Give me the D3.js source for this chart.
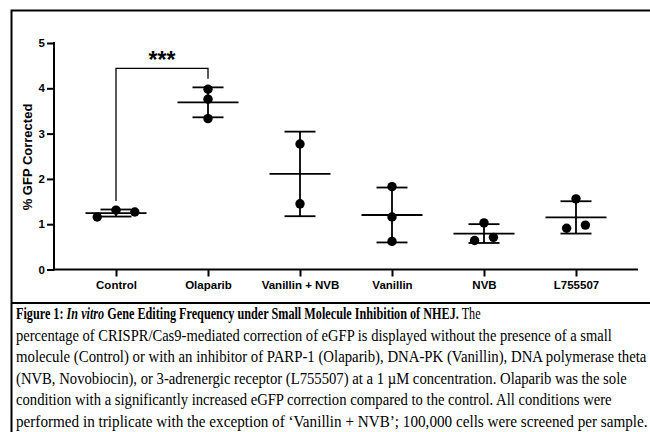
<!DOCTYPE html>
<html>
<head>
<meta charset="utf-8">
<script src="https://cdn.jsdelivr.net/npm/d3@7"></script>
<style>
  body { margin: 0; background: #fff; }
  svg { display: block; }
</style>
</head>
<body>
<div id="chart"></div>
<script>
// values (% GFP corrected, one array per condition)
var groups = ["Control", "Olaparib", "Vanillin + NVB", "Vanillin", "NVB", "L755507"];
var control = [1.16, 1.31, 1.27];
var olaparib = [3.98, 3.76, 3.33];
var vanillinNvb = [2.77, 1.45];
var vanillin = [1.83, 1.16, 0.62];
var nvb = [0.64, 1.03, 0.71];
var l755507 = [0.91, 1.56, 0.98];
var yTicks = [0, 1, 2, 3, 4, 5];

// significance bracket
var sigPair = ["Control", "Olaparib"];
var sigLevel = 4.44;
var sigLabel = "***";

var captionLines = [
  [["Figure 1: ", "b"], ["In vitro", "bi"], [" Gene Editing Frequency under Small Molecule Inhibition of NHEJ.", "b"], [" The", ""]],
  [["percentage of CRISPR/Cas9-mediated correction of eGFP is displayed without the presence of a small", ""]],
  [["molecule (Control) or with an inhibitor of PARP-1 (Olaparib), DNA-PK (Vanillin), DNA polymerase theta", ""]],
  [["(NVB, Novobiocin), or 3-adrenergic receptor (L755507) at a 1 \u00b5M concentration. Olaparib was the sole", ""]],
  [["condition with a significantly increased eGFP correction compared to the control. All conditions were", ""]],
  [["performed in triplicate with the exception of \u2018Vanillin + NVB\u2019; 100,000 cells were screened per sample.", ""]]
];
// right end of each caption line in the figure
var captionEnds = [481, 612, 647, 627, 612, 648];

var values = [control, olaparib, vanillinNvb, vanillin, nvb, l755507];

var width = 650, height = 432;
var svg = d3.select("#chart").append("svg")
    .attr("width", width)
    .attr("height", height);

var sans = "'Liberation Sans', Arial, Helvetica, sans-serif";
var serif = "'Liberation Serif', 'Times New Roman', Times, serif";

// frame
svg.append("path")
    .attr("d", "M11.5,432V10.5H650")
    .attr("fill", "none")
    .attr("stroke", "#000")
    .attr("stroke-width", 2);
svg.append("line")
    .attr("x1", 11).attr("x2", 650)
    .attr("y1", 303).attr("y2", 303)
    .attr("stroke", "#000")
    .attr("stroke-width", 2);

var x = d3.scalePoint()
    .domain(groups)
    .range([54, 638])
    .padding(0.674);

var y = d3.scaleLinear()
    .domain([0, 5])
    .range([269.5, 43]);

var yAxis = g => g
    .attr("transform", "translate(54,0)")
    .call(d3.axisLeft(y).tickValues(yTicks).tickSize(7).tickPadding(2).tickFormat(d3.format("d")))
    .call(g => g.selectAll("path, line").attr("stroke", "#000").attr("stroke-width", 2))
    .call(g => g.select(".domain").attr("d", "M0," + (y(5) - 1) + "V" + (y(0) + 1)))
    .call(g => g.selectAll("text").attr("fill", "#000")
        .style("font", "bold 11.5px " + sans));

var xAxis = g => g
    .attr("transform", "translate(0," + y(0) + ")")
    .call(d3.axisBottom(x).tickSize(7).tickPadding(4).tickSizeOuter(0))
    .call(g => g.selectAll("path, line").attr("stroke", "#000").attr("stroke-width", 2))
    .call(g => g.select(".domain").attr("d", "M54,0H638"))
    .call(g => g.selectAll("text").attr("fill", "#000")
        .style("font", "bold 11.5px " + sans));

svg.append("g").call(xAxis);
svg.append("g").call(yAxis);

svg.append("text")
    .attr("transform", "translate(32," + 157 + ") rotate(-90)")
    .attr("text-anchor", "middle")
    .style("font", "bold 13px " + sans)
    .text("% GFP Corrected");

// scatter with mean and SD
var r = 4.7;
var meanHalf = 30.5, capHalf = 15.5;

var plot = svg.append("g");

groups.forEach(function(name, gi) {
  var vals = values[gi];
  var cx = x(name);
  var mean = d3.mean(vals);
  var sd = d3.deviation(vals);

  // spread points that sit at nearly the same height
  var order = vals.map((v, i) => i).sort((a, b) => y(vals[a]) - y(vals[b]));
  var clusters = [], cur = [order[0]];
  for (var k = 1; k < order.length; k++) {
    if (Math.abs(y(vals[order[k]]) - y(vals[order[k - 1]])) < 2 * r) cur.push(order[k]);
    else { clusters.push(cur); cur = [order[k]]; }
  }
  clusters.push(cur);
  var dx = vals.map(() => 0);
  clusters.forEach(function(c) {
    c.sort((a, b) => a - b);
    c.forEach(function(idx, j) { dx[idx] = (j - (c.length - 1) / 2) * 4 * r; });
  });

  var g = plot.append("g").attr("stroke", "#000").attr("stroke-width", 1.8);
  g.append("line")
      .attr("x1", cx).attr("x2", cx)
      .attr("y1", y(mean - sd)).attr("y2", y(mean + sd));
  [mean - sd, mean + sd].forEach(function(v) {
    g.append("line")
        .attr("x1", cx - capHalf).attr("x2", cx + capHalf)
        .attr("y1", y(v)).attr("y2", y(v));
  });
  g.append("line")
      .attr("x1", cx - meanHalf).attr("x2", cx + meanHalf)
      .attr("y1", y(mean)).attr("y2", y(mean));

  plot.selectAll(null)
      .data(vals)
      .join("circle")
      .attr("cx", (d, i) => cx + dx[i])
      .attr("cy", d => y(d))
      .attr("r", r)
      .attr("fill", "#000");
});

// significance bracket
function groupTop(name) {
  var vals = values[groups.indexOf(name)];
  return Math.max(d3.max(vals), d3.mean(vals) + d3.deviation(vals));
}
var xa = x(sigPair[0]), xb = x(sigPair[1]);
svg.append("path")
    .attr("d", "M" + xa + "," + y(groupTop(sigPair[0]) + 0.19) +
               "V" + y(sigLevel) + "H" + xb +
               "V" + y(groupTop(sigPair[1]) + 0.19))
    .attr("fill", "none")
    .attr("stroke", "#000")
    .attr("stroke-width", 1.3);
svg.append("text")
    .attr("x", (xa + xb) / 2)
    .attr("y", y(sigLevel))
    .attr("text-anchor", "middle")
    .style("font", "bold 23px " + sans)
    .text(sigLabel);

// caption
var capX = 16;
var cap = svg.append("g").attr("class", "caption");
var capText = cap.selectAll("text")
    .data(captionLines)
    .join("text")
    .attr("x", 0)
    .attr("y", 0)
    .style("font-family", serif)
    .style("font-size", "16.5px")
    .attr("fill", "#000");

capText.selectAll("tspan")
    .data(d => d)
    .join("tspan")
    .attr("font-weight", d => d[1].indexOf("b") >= 0 ? "bold" : "normal")
    .attr("font-style", d => d[1].indexOf("i") >= 0 ? "italic" : "normal")
    .text(d => d[0]);

// squeeze each line to the width it has in the figure
capText.attr("transform", function(d, i) {
  var len = this.getComputedTextLength();
  var sx = (captionEnds[i] - capX) / len;
  return "translate(" + capX + "," + (319 + i * 21.6) + ") scale(" + sx + ",1)";
});
</script>
</body>
</html>
